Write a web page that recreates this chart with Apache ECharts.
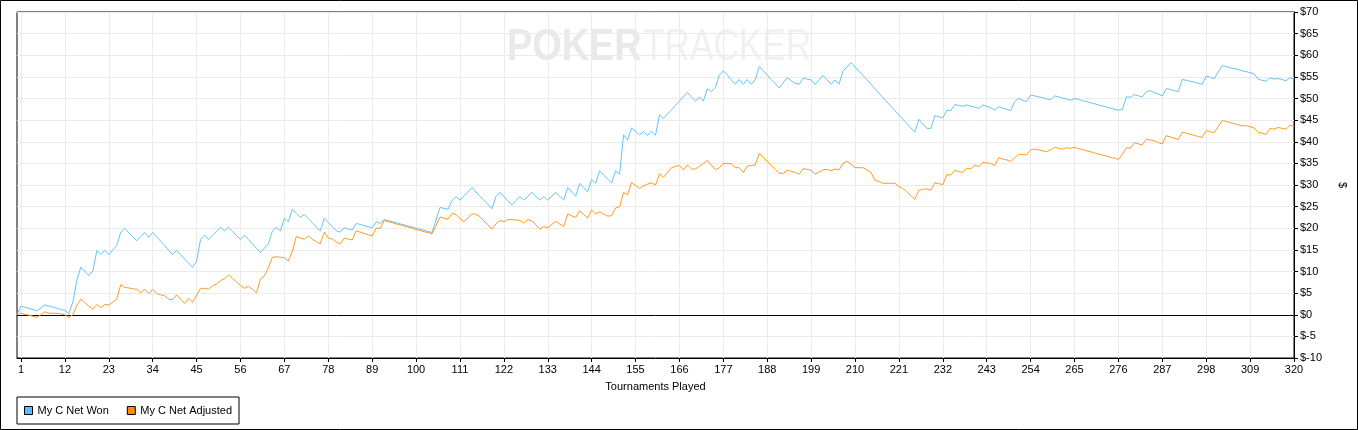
<!DOCTYPE html>
<html>
<head>
<meta charset="utf-8">
<script src="https://cdn.jsdelivr.net/npm/echarts@6/dist/echarts.min.js"></script>
<style>
html,body{margin:0;padding:0;background:#fff;}
#chart{width:1358px;height:430px;}
</style>
</head>
<body>
<div id="chart"></div>
<script>
// Tournament index 0..320 (0 = starting point)
const tournaments = Array.from({length: 321}, (_, i) => String(i));
const tickLabels = [1, 12, 23, 34, 45, 56, 67, 78, 89, 100, 111, 122, 133, 144, 155, 166, 177, 188, 199, 210, 221, 232, 243, 254, 265, 276, 287, 298, 309, 320];
const yTicks = [-10, -5, 0, 5, 10, 15, 20, 25, 30, 35, 40, 45, 50, 55, 60, 65, 70];

const netWon = [
  0, 2.0, 1.7, 1.5, 1.2, 0.9, 1.6, 2.3, 2.0, 1.8,
  1.5, 1.2, 1.0, 0.2, 3.0, 8.0, 11.0, 10.0, 9.1, 10.1,
  14.8, 14.0, 14.9, 13.9, 15.0, 16.0, 19.1, 20.0, 19.0, 18.0,
  17.1, 18.1, 19.0, 17.9, 19.0, 18.0, 17.0, 16.0, 14.9, 13.9,
  14.9, 13.9, 12.9, 11.9, 11.0, 12.4, 17.4, 18.4, 17.4, 18.4,
  19.3, 20.2, 19.4, 20.2, 19.3, 18.3, 17.4, 18.4, 17.4, 16.4,
  15.4, 14.4, 15.4, 16.4, 19.4, 20.2, 19.4, 22.3, 21.5, 24.4,
  23.4, 22.5, 23.2, 22.2, 21.3, 20.3, 19.4, 22.3, 21.3, 20.4,
  19.4, 19.1, 20.1, 19.8, 19.6, 21.1, 20.9, 20.6, 20.4, 20.1,
  21.5, 21.1, 22.0, 21.8, 21.5, 21.3, 21.0, 20.8, 20.5, 20.3,
  20.0, 19.8, 19.5, 19.3, 19.0, 21.9, 24.8, 24.6, 24.4, 26.4,
  27.3, 26.5, 27.5, 28.4, 29.4, 28.4, 27.4, 26.5, 25.5, 24.5,
  27.3, 28.3, 27.3, 26.3, 25.4, 26.4, 27.3, 26.5, 27.4, 28.3,
  27.4, 26.5, 27.3, 26.5, 27.4, 28.3, 27.4, 26.5, 29.4, 28.4,
  27.4, 30.4, 29.4, 28.4, 31.3, 30.4, 33.3, 32.3, 31.4, 30.4,
  33.3, 32.5, 41.6, 40.4, 43.2, 42.4, 41.6, 42.3, 41.5, 42.4,
  41.5, 46.2, 45.4, 46.4, 47.4, 48.4, 49.4, 50.4, 51.4, 50.4,
  49.4, 50.3, 49.4, 52.3, 51.6, 52.6, 55.4, 56.4, 55.4, 54.3,
  53.3, 54.4, 53.3, 54.4, 53.3, 54.4, 57.4, 56.4, 55.4, 54.4,
  53.4, 52.4, 53.6, 54.8, 54.1, 53.5, 53.3, 54.7, 54.5, 54.3,
  53.3, 54.3, 55.3, 54.3, 53.3, 54.3, 53.3, 56.4, 57.3, 58.3,
  57.3, 56.3, 55.3, 54.3, 53.3, 52.2, 51.2, 50.2, 49.2, 48.2,
  47.2, 46.2, 45.2, 44.2, 43.2, 42.2, 45.2, 44.1, 43.1, 43.1,
  46.0, 45.8, 45.5, 47.3, 47.2, 48.6, 48.4, 48.2, 48.5, 48.2,
  48.0, 47.7, 48.5, 48.2, 47.9, 47.3, 48.1, 47.8, 47.5, 47.2,
  49.3, 50.0, 49.6, 49.3, 50.8, 50.6, 50.4, 50.2, 49.9, 49.7,
  50.6, 50.4, 50.1, 49.9, 49.6, 50.0, 49.8, 49.5, 49.3, 49.0,
  48.8, 48.5, 48.3, 48.0, 47.8, 47.5, 47.3, 47.5, 50.4, 50.3,
  50.9, 50.6, 50.4, 51.6, 51.8, 51.4, 51.0, 50.6, 52.3, 52.1,
  51.8, 51.6, 54.4, 54.2, 54.0, 53.8, 53.5, 53.3, 55.2, 54.9,
  54.6, 56.1, 57.6, 57.4, 57.1, 56.9, 56.7, 56.4, 56.2, 56.0,
  55.7, 54.5, 54.2, 54.0, 54.8, 54.5, 54.6, 54.4, 54.1, 54.8,
  54.5
];

const netAdjusted = [
  0, 0.35, 0.1, -0.1, -0.35, -0.6, 0, 0.7, 0.35, 0.35,
  0.35, 0.2, 0, -0.6, 0, 2.2, 3.6, 2.8, 2.0, 1.3,
  2.4, 1.6, 2.4, 2.2, 2.9, 3.6, 7.0, 6.3, 6.2, 6.0,
  5.9, 5.1, 5.9, 4.9, 5.9, 4.9, 4.6, 4.4, 3.6, 3.5,
  4.6, 3.6, 2.6, 3.8, 2.9, 4.5, 6.1, 6.1, 5.9, 6.7,
  7.1, 7.9, 8.3, 9.2, 8.4, 7.6, 6.8, 6.1, 6.6, 5.9,
  5.1, 8.2, 9.0, 10.9, 13.3, 13.4, 13.3, 13.2, 12.4, 14.7,
  18.1, 17.7, 17.5, 18.2, 17.5, 16.9, 16.4, 19.1, 17.7, 17.5,
  16.8, 16.4, 17.7, 17.5, 17.3, 19.4, 19.1, 18.8, 18.5, 18.2,
  20.0, 20.0, 21.8, 21.5, 21.3, 21.0, 20.8, 20.5, 20.3, 20.0,
  19.7, 19.5, 19.2, 19.0, 18.7, 20.6, 22.6, 22.3, 22.1, 23.4,
  23.2, 22.3, 21.5, 22.4, 23.3, 23.2, 22.7, 21.7, 20.8, 19.8,
  21.0, 21.8, 21.5, 22.0, 22.0, 21.9, 21.8, 21.2, 22.0, 21.7,
  20.8, 19.8, 20.4, 20.1, 20.9, 21.6, 21.0, 20.4, 23.3, 22.9,
  22.5, 24.0, 23.2, 22.4, 24.2, 23.3, 23.8, 23.3, 22.8, 22.9,
  24.7, 25.0, 28.3, 27.7, 30.6, 29.9, 29.2, 29.8, 30.2, 30.5,
  30.0, 32.6, 31.8, 32.9, 34.0, 34.3, 34.5, 33.5, 34.6, 33.7,
  33.7, 34.3, 35.0, 35.7, 34.6, 33.5, 34.0, 35.0, 35.0, 34.9,
  34.0, 34.0, 32.9, 34.4, 34.5, 34.6, 37.3, 36.4, 35.5, 34.5,
  33.6, 32.7, 32.7, 33.4, 33.2, 32.9, 32.5, 33.8, 33.6, 33.4,
  32.5, 33.0, 33.5, 33.6, 33.3, 33.7, 33.5, 35.0, 35.5, 34.8,
  34.0, 34.0, 34.0, 33.5, 32.9, 31.1, 30.8, 30.4, 30.4, 30.4,
  30.4, 29.6, 29.2, 28.4, 27.5, 26.7, 28.8, 29.0, 29.1, 28.8,
  30.5, 30.3, 30.1, 32.4, 32.3, 33.4, 33.1, 32.9, 33.9, 33.7,
  34.6, 34.2, 35.2, 35.1, 35.0, 34.5, 36.3, 36.0, 35.8, 35.4,
  36.3, 37.1, 37.0, 37.0, 38.1, 38.3, 38.1, 37.9, 37.7, 38.1,
  38.7, 38.5, 38.3, 38.6, 38.5, 38.7, 38.4, 38.2, 37.9, 37.7,
  37.4, 37.2, 36.9, 36.7, 36.4, 36.2, 35.9, 37.1, 38.6, 38.5,
  39.8, 39.5, 39.3, 40.6, 40.4, 40.2, 39.8, 39.5, 41.4, 41.1,
  40.8, 40.5, 42.2, 42.0, 41.7, 41.5, 41.2, 41.0, 42.6, 42.3,
  42.1, 43.5, 44.9, 44.7, 44.4, 44.2, 43.9, 43.7, 43.7, 43.5,
  43.2, 42.2, 42.0, 41.7, 43.1, 42.9, 43.3, 43.1, 42.9, 43.8,
  43.6
];

const seriesNames = ['My C Net Won', 'My C Net Adjusted'];
const seriesColors = ['#66c4f5', '#ff9a22'];
const legendColors = ['#5bbff5', '#ff8c00'];

const FONT = '"Liberation Sans", Arial, sans-serif';
const showTick = (idx, val) => tickLabels.indexOf(Number(val)) !== -1;

const chart = echarts.init(document.getElementById('chart'), null, {renderer: 'canvas'});

const warn = (netWon.length !== 321 || netAdjusted.length !== 321)
  ? ('LEN ' + netWon.length + ' ' + netAdjusted.length) : '';

chart.setOption({
  animation: false,
  backgroundColor: '#ffffff',
  title: {show: !!warn, text: warn, left: 300, top: 100},
  graphic: [
    {type: 'rect', z: 100, silent: true,
     shape: {x: 0.5, y: 0.5, width: 1357, height: 429},
     style: {fill: 'none', stroke: '#000', lineWidth: 1}},
    {type: 'text', x: 507, y: 48, scaleX: 0.86, z: -10, silent: true,
     style: {text: 'POKER', font: 'bold 44px ' + FONT, fill: '#e9e9e9', textVerticalAlign: 'middle'}},
    {type: 'text', x: 643, y: 48, scaleX: 0.8, z: -10, silent: true,
     style: {text: 'TRACKER', font: '44px ' + FONT, fill: '#f1f1f1', textVerticalAlign: 'middle'}}
  ],
  grid: {
    left: 17, right: 64, top: 12, bottom: 72,
    show: true, borderColor: '#000', borderWidth: 1, backgroundColor: 'transparent'
  },
  legend: {
    left: 17, top: 397,
    orient: 'horizontal',
    backgroundColor: '#fff',
    borderColor: '#000', borderWidth: 1, borderRadius: 0,
    padding: [8, 7, 8, 7],
    itemWidth: 8, itemHeight: 8, itemGap: 18,
    icon: 'rect',
    textStyle: {fontFamily: FONT, fontSize: 11, color: '#000'},
    data: seriesNames.map((n, k) => ({
      name: n,
      itemStyle: {color: legendColors[k], borderColor: '#000', borderWidth: 1}
    }))
  },
  xAxis: {
    type: 'category',
    data: tournaments,
    boundaryGap: false,
    name: 'Tournaments Played',
    nameLocation: 'middle',
    nameGap: 23,
    nameTextStyle: {fontFamily: FONT, fontSize: 11, color: '#000'},
    axisLine: {onZero: false, lineStyle: {color: '#000', width: 1}},
    axisTick: {show: true, interval: showTick, length: 4, lineStyle: {color: '#000'}},
    axisLabel: {interval: showTick, fontFamily: FONT, fontSize: 11, color: '#000', margin: 6},
    splitLine: {show: true, interval: showTick, lineStyle: {color: '#ebebeb', width: 1}}
  },
  yAxis: {
    type: 'value',
    position: 'right',
    min: yTicks[0], max: yTicks[yTicks.length - 1], interval: 5,
    name: '$',
    nameLocation: 'middle',
    nameGap: 43,
    nameRotate: -90,
    nameTextStyle: {fontFamily: FONT, fontSize: 11, color: '#000'},
    axisLine: {show: true, lineStyle: {color: '#000', width: 1}},
    axisTick: {show: true, length: 4, lineStyle: {color: '#000'}},
    axisLabel: {fontFamily: FONT, fontSize: 11, color: '#000', margin: 6,
                formatter: v => '$' + v},
    splitLine: {show: true, lineStyle: {color: '#ebebeb', width: 1}}
  },
  series: [
    {
      name: seriesNames[0], type: 'line', data: netWon,
      symbol: 'none', smooth: false,
      lineStyle: {color: seriesColors[0], width: 1},
      itemStyle: {color: seriesColors[0]},
      z: 3,
      markLine: {
        silent: true, symbol: ['none', 'none'], label: {show: false},
        lineStyle: {color: '#000', type: 'solid', width: 1},
        data: [{yAxis: 0}], z: 1
      }
    },
    {
      name: seriesNames[1], type: 'line', data: netAdjusted,
      symbol: 'none', smooth: false,
      lineStyle: {color: seriesColors[1], width: 1},
      itemStyle: {color: seriesColors[1]},
      z: 4
    }
  ]
});
</script>
</body>
</html>
